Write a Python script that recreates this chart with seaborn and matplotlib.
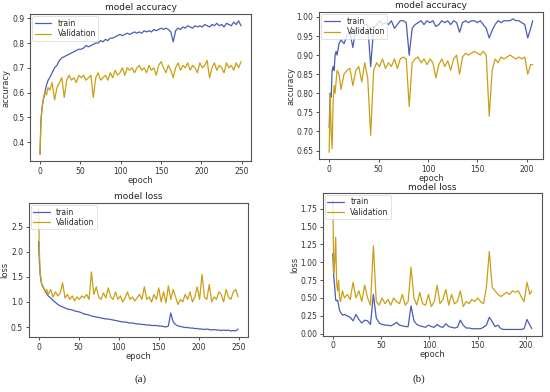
import numpy as np
import pandas as pd
import matplotlib
matplotlib.use("Agg")
import matplotlib.pyplot as plt
import seaborn as sns

ep_a = [0, 1, 2, 3, 4, 6, 8, 10] + list(range(12, 250, 3))

acc_train_a = [0.35, 0.47, 0.52, 0.55, 0.57, 0.60, 0.63, 0.65,
               0.66, 0.68, 0.70, 0.71, 0.73, 0.74, 0.745, 0.75, 0.755, 0.76,
               0.765, 0.77, 0.775, 0.775, 0.78, 0.79, 0.785, 0.79, 0.795, 0.80,
               0.80, 0.81, 0.805, 0.815, 0.81, 0.82, 0.82, 0.825, 0.83, 0.835,
               0.83, 0.835, 0.84, 0.835, 0.84, 0.845, 0.84, 0.845, 0.84, 0.85,
               0.845, 0.85, 0.845, 0.855, 0.85, 0.855, 0.86, 0.855, 0.86, 0.855,
               0.845, 0.805, 0.85, 0.86, 0.855, 0.865, 0.86, 0.87, 0.865, 0.86,
               0.87, 0.865, 0.87, 0.865, 0.875, 0.87, 0.865, 0.875, 0.87, 0.88,
               0.87, 0.875, 0.865, 0.88, 0.875, 0.87, 0.885, 0.875, 0.89, 0.87]

acc_val_a = [0.35, 0.48, 0.52, 0.55, 0.57, 0.60, 0.59, 0.62,
             0.61, 0.64, 0.57, 0.62, 0.64, 0.66, 0.58, 0.65, 0.67, 0.65,
             0.66, 0.64, 0.67, 0.66, 0.67, 0.65, 0.66, 0.67, 0.58, 0.66,
             0.68, 0.65, 0.66, 0.67, 0.65, 0.68, 0.66, 0.69, 0.67, 0.68,
             0.70, 0.67, 0.70, 0.69, 0.70, 0.68, 0.70, 0.71, 0.69, 0.70,
             0.68, 0.71, 0.69, 0.70, 0.67, 0.71, 0.725, 0.70, 0.68, 0.71,
             0.69, 0.66, 0.70, 0.72, 0.69, 0.71, 0.70, 0.72, 0.69, 0.71,
             0.70, 0.68, 0.72, 0.70, 0.71, 0.73, 0.66, 0.70, 0.72, 0.69,
             0.71, 0.70, 0.68, 0.72, 0.70, 0.71, 0.69, 0.72, 0.70, 0.725]

loss_train_a = [2.2, 1.8, 1.55, 1.42, 1.35, 1.28, 1.22, 1.17,
                1.12, 1.08, 1.03, 0.99, 0.95, 0.92, 0.90, 0.88, 0.86, 0.85,
                0.84, 0.82, 0.81, 0.80, 0.78, 0.76, 0.75, 0.74, 0.72, 0.71,
                0.70, 0.69, 0.68, 0.67, 0.66, 0.66, 0.65, 0.64, 0.63, 0.62,
                0.61, 0.60, 0.60, 0.59, 0.58, 0.58, 0.57, 0.56, 0.56, 0.55,
                0.55, 0.54, 0.54, 0.53, 0.53, 0.53, 0.52, 0.52, 0.51, 0.50,
                0.52, 0.78, 0.60, 0.55, 0.52, 0.51, 0.50, 0.49, 0.49, 0.48,
                0.48, 0.47, 0.47, 0.46, 0.46, 0.45, 0.46, 0.45, 0.44, 0.45,
                0.44, 0.44, 0.43, 0.44, 0.43, 0.44, 0.42, 0.43, 0.42, 0.46]

loss_val_a = [2.85, 2.0, 1.6, 1.45, 1.35, 1.30, 1.20, 1.25,
              1.15, 1.25, 1.10, 1.20, 1.12, 1.18, 1.38, 1.08, 1.15, 1.05,
              1.12, 1.02, 1.10, 1.05, 1.12, 1.08, 1.15, 1.05, 1.60, 1.15,
              1.30, 1.10, 1.05, 1.18, 1.08, 1.28, 1.10, 1.05, 1.20, 1.05,
              1.12, 1.00, 1.08, 1.20, 1.05, 1.10, 1.02, 1.08, 1.15, 1.05,
              1.30, 1.05, 1.10, 1.00, 1.15, 1.05, 1.28, 1.00, 1.20, 0.98,
              1.32, 1.05, 1.25, 1.10, 0.95, 1.05, 1.00, 1.15, 1.05, 1.20,
              1.00, 1.10, 1.30, 1.05, 1.55, 1.10, 1.05, 1.35, 1.00, 1.10,
              1.05, 1.20, 1.15, 1.00, 1.25, 1.10, 1.05, 1.20, 1.25, 1.10]

ep_b = [0, 1, 2, 3, 4, 5, 6, 7, 8, 10] + list(range(12, 205, 3)) + [206]

acc_train_b = [0.71, 0.80, 0.79, 0.86, 0.87, 0.86, 0.90, 0.91, 0.90, 0.93,
               0.94, 0.93, 0.95, 0.96, 0.92, 0.97, 0.97, 0.96, 0.98, 0.98,
               0.87, 0.97, 0.98, 0.99, 0.98, 0.985, 0.98, 0.99, 0.97, 0.98,
               0.99, 0.99, 0.985, 0.90, 0.97, 0.98, 0.985, 0.99, 0.98, 0.99,
               0.985, 0.99, 0.975, 0.98, 0.99, 0.985, 0.99, 0.98, 0.99, 0.985,
               0.96, 0.985, 0.99, 0.985, 0.99, 0.99, 0.985, 0.99, 0.98, 0.97,
               0.945, 0.965, 0.98, 0.99, 0.985, 0.99, 0.99, 0.99, 0.995, 0.99,
               0.99, 0.985, 0.98, 0.945, 0.97, 0.99]

acc_val_b = [0.645, 0.80, 0.70, 0.655, 0.78, 0.82, 0.80, 0.83, 0.86, 0.85,
             0.81, 0.85, 0.86, 0.865, 0.82, 0.86, 0.87, 0.83, 0.88, 0.84,
             0.69, 0.86, 0.88, 0.87, 0.89, 0.865, 0.88, 0.87, 0.89, 0.865,
             0.89, 0.895, 0.89, 0.765, 0.88, 0.89, 0.895, 0.88, 0.89, 0.875,
             0.89, 0.88, 0.84, 0.875, 0.89, 0.87, 0.885, 0.86, 0.89, 0.90,
             0.85, 0.895, 0.905, 0.90, 0.905, 0.91, 0.905, 0.90, 0.91, 0.90,
             0.74, 0.86, 0.89, 0.88, 0.895, 0.89, 0.895, 0.90, 0.895, 0.89,
             0.895, 0.89, 0.895, 0.85, 0.875, 0.875]

loss_train_b = [1.12, 0.80, 0.65, 0.47, 0.46, 0.47, 0.40, 0.33, 0.30, 0.26,
                0.27, 0.25, 0.23, 0.18, 0.27, 0.20, 0.15, 0.19, 0.18, 0.13,
                0.55, 0.22, 0.15, 0.13, 0.12, 0.12, 0.11, 0.13, 0.16, 0.12,
                0.11, 0.10, 0.10, 0.39, 0.18, 0.13, 0.11, 0.10, 0.09, 0.12,
                0.10, 0.09, 0.13, 0.10, 0.09, 0.14, 0.10, 0.09, 0.08, 0.09,
                0.19, 0.12, 0.08, 0.08, 0.07, 0.07, 0.07, 0.07, 0.09, 0.12,
                0.23, 0.17, 0.10, 0.12, 0.07, 0.06, 0.06, 0.06, 0.06, 0.06,
                0.06, 0.06, 0.07, 0.20, 0.12, 0.07]

loss_val_b = [1.88, 0.85, 1.00, 1.35, 0.70, 0.60, 0.75, 0.50, 0.45, 0.60,
              0.50, 0.55, 0.48, 0.72, 0.50, 0.60, 0.45, 0.68, 0.50, 0.40,
              1.23, 0.45, 0.40, 0.50, 0.42, 0.48, 0.40, 0.50, 0.45, 0.42,
              0.55, 0.40, 0.45, 0.93, 0.50, 0.40, 0.58, 0.42, 0.40, 0.55,
              0.38, 0.45, 0.68, 0.42, 0.48, 0.62, 0.40, 0.55, 0.42, 0.45,
              0.60, 0.38, 0.45, 0.42, 0.48, 0.45, 0.50, 0.45, 0.42, 0.65,
              1.15, 0.65, 0.60, 0.55, 0.52, 0.55, 0.58, 0.55, 0.60, 0.58,
              0.60, 0.52, 0.45, 0.72, 0.55, 0.60]

TRAIN_C = "#4a5cb5"
VAL_C = "#c9a015"

sns.set_style("white")
plt.rcParams["font.family"] = ["DejaVu Sans"]

fig = plt.figure(figsize=(5.5, 3.92), dpi=100)


def draw(ax, ep, train, val, title, ylabel, title_pad=3):
    df = pd.DataFrame({"epoch": ep, "train": train, "Validation": val})
    sns.lineplot(data=df, x="epoch", y="train", ax=ax, color=TRAIN_C,
                 linewidth=0.9, label="train")
    sns.lineplot(data=df, x="epoch", y="Validation", ax=ax, color=VAL_C,
                 linewidth=0.9, label="Validation")
    ax.set_title(title, fontsize=6.5, color="#222222", pad=title_pad)
    ax.set_xlabel("epoch", fontsize=6, color="#333333", labelpad=0)
    ax.set_ylabel(ylabel, fontsize=6, color="#333333", labelpad=1)
    ax.tick_params(labelsize=5.5, colors="#333333", length=2.5, width=0.6,
                   pad=1.5, left=True, bottom=True)
    for s in ax.spines.values():
        s.set_color("#555555")
        s.set_linewidth(0.8)
    leg = ax.legend(loc="upper left", fontsize=5.5, frameon=True,
                    handlelength=2.2, borderpad=0.3, labelspacing=0.2,
                    borderaxespad=0.3)
    leg.get_frame().set_linewidth(0.5)


ax1 = fig.add_axes([0.0545, 0.589, 0.402, 0.375])
draw(ax1, ep_a, acc_train_a, acc_val_a, "model accuracy", "accuracy")
ax1.set_xticks([0, 50, 100, 150, 200, 250])

ax2 = fig.add_axes([0.58, 0.594, 0.407, 0.375])
draw(ax2, ep_b, acc_train_b, acc_val_b, "model accuracy", "accuracy")
ax2.set_yticks([0.65, 0.70, 0.75, 0.80, 0.85, 0.90, 0.95, 1.00])

ax3 = fig.add_axes([0.052, 0.140, 0.399, 0.342])
draw(ax3, ep_a, loss_train_a, loss_val_a, "model loss", "loss")
ax3.set_xticks([0, 50, 100, 150, 200, 250])
ax3.set_yticks([0.5, 1.0, 1.5, 2.0, 2.5])

ax4 = fig.add_axes([0.587, 0.143, 0.398, 0.365])
draw(ax4, ep_b, loss_train_b, loss_val_b, "model loss", "loss", title_pad=2)
ax4.set_yticks([0.0, 0.25, 0.5, 0.75, 1.0, 1.25, 1.5, 1.75])
ax4.set_yticklabels(["0.00", "0.25", "0.50", "0.75", "1.00", "1.25", "1.50", "1.75"])

fig.text(0.255, 0.026, "(a)", fontsize=8, family="Liberation Serif", ha="center")
fig.text(0.762, 0.026, "(b)", fontsize=8, family="Liberation Serif", ha="center")

fig.savefig("out.png", dpi=100)
